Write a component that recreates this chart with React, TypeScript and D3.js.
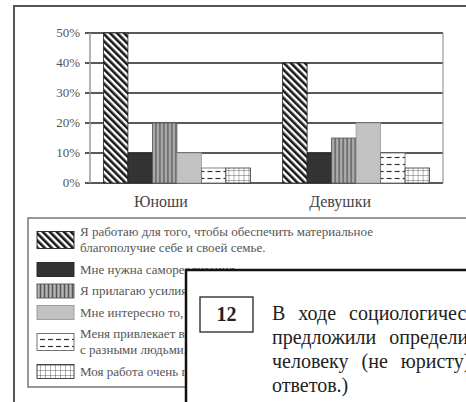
import * as d3 from 'd3';

const categories = ['Юноши', 'Девушки'];
const boys = [50, 10, 20, 10, 5, 5];
const girls = [40, 10, 15, 20, 10, 5];
const yTicks = [0, 10, 20, 30, 40, 50];
const legendLines = [
    ['Я работаю для того, чтобы обеспечить материальное', 'благополучие себе и своей семье.'],
    ['Мне нужна самореализация.'],
    ['Я прилагаю усилия, чтобы сделать карьеру.'],
    ['Мне интересно то, чем я занимаюсь.'],
    ['Меня привлекает возможность общаться', 'с разными людьми.'],
    ['Моя работа очень престижна.'],
];
const fills = ['url(#diag)', '#333', 'url(#vstripe)', '#c2c2c2', 'url(#dash)', 'url(#grid)'];
const strokes = ['#222', '#222', '#555', '#999', '#666', '#333'];
const taskLines = ['В ходе социологического опроса', 'предложили определить', 'человеку (не юристу)', 'ответов.)'];

const W = 466;
const H = 402;
const FONT = 'Tinos';

function T(props: any) {
    return <text {...props} style={{ fontFamily: `"${FONT}"` }} />;
}

export default function App() {
    const values = [boys, girls];
    const x0 = d3.scaleBand<string>().domain(categories).range([90, 443]).paddingInner(0.18).paddingOuter(0.075);
    const x1 = d3.scaleBand<number>().domain(d3.range(boys.length)).range([0, x0.bandwidth()]);
    const y = d3.scaleLinear().domain([0, 50]).range([183, 33]);

    // legend rows: item start offsets from line counts
    const lineH = 16;
    const gap = 21.5;
    let acc = 232;
    const legendY = legendLines.map(lines => {
        const cur = acc;
        acc += (lines.length - 1) * lineH + gap;
        return cur;
    });

    return (
        <svg width={W} height={H} style={{ position: 'absolute', left: 0, top: 0, background: '#fff' }}>
            <defs>
                <pattern id="diag" patternUnits="userSpaceOnUse" width="5" height="5" patternTransform="rotate(-45)">
                    <rect width="5" height="5" fill="#fff" />
                    <rect width="2.6" height="5" fill="#1a1a1a" />
                </pattern>
                <pattern id="vstripe" patternUnits="userSpaceOnUse" width="4" height="4">
                    <rect width="4" height="4" fill="#9a9a9a" />
                    <rect width="1" height="4" fill="#555" />
                    <rect x="2" width="1" height="4" fill="#b8b8b8" />
                </pattern>
                <pattern id="dash" patternUnits="userSpaceOnUse" width="8" height="7">
                    <rect width="8" height="7" fill="#fff" />
                    <line x1="0" x2="5" y1="3.5" y2="3.5" stroke="#333" strokeWidth="1.2" />
                </pattern>
                <pattern id="grid" patternUnits="userSpaceOnUse" width="5" height="5">
                    <rect width="5" height="5" fill="#fff" />
                    <path d="M0,0V5M0,0H5" stroke="#555" strokeWidth="0.9" fill="none" />
                </pattern>
            </defs>

            {/* outer frame */}
            <rect x={14} y={6} width={520} height={480} fill="#fff" stroke="#555" strokeWidth={2} />

            {/* gridlines + y ticks */}
            {yTicks.map(t => (
                <g key={t}>
                    <line x1={85} x2={443} y1={y(t)} y2={y(t)} stroke="#222" strokeWidth={1.3} />
                    <T x={80} y={y(t) + 4} textAnchor="end" fontSize={13} fill="#555">{t}%</T>
                </g>
            ))}
            <line x1={90} x2={90} y1={y(50)} y2={y(0)} stroke="#999" strokeWidth={1.5} />
            <line x1={443} x2={443} y1={y(50)} y2={y(0)} stroke="#999" strokeWidth={1.2} />

            {/* bars */}
            {categories.map((c, ci) => (
                <g key={c} transform={`translate(${x0(c)},0)`}>
                    {values[ci].map((v, i) => (
                        <rect key={i} x={x1(i)} y={y(v)} width={x1.bandwidth()} height={y(0) - y(v)}
                            fill={fills[i]} stroke={strokes[i]} strokeWidth={0.8} />
                    ))}
                    <T x={x0.bandwidth() / 2 - 16} y={207} textAnchor="middle" fontSize={16} fill="#444">{c}</T>
                </g>
            ))}

            {/* legend */}
            <rect x={28} y={218} width={460} height={169} fill="#fff" stroke="#777" strokeWidth={1.5} />
            {legendLines.map((lines, i) => {
                const sh = 14 + (lines.length - 1) * 3;
                const cy = legendY[i] + (lines.length - 1) * lineH / 2 - 2;
                return (
                    <g key={i}>
                        <rect x={37} y={cy - sh / 2 + 2} width={37} height={sh} fill={fills[i]} stroke={strokes[i]} strokeWidth={0.9} />
                        {lines.map((l, j) => (
                            <T key={j} x={80} y={legendY[i] + j * lineH + 4} fontSize={13} fill="#555">{l}</T>
                        ))}
                    </g>
                );
            })}

            {/* overlapping task card */}
            <rect x={186} y={270} width={300} height={150} fill="#fff" stroke="#111" strokeWidth={2.5} />
            <rect x={200} y={297} width={53} height={35} fill="none" stroke="#222" strokeWidth={1.3} />
            <T x={226.5} y={321} textAnchor="middle" fontSize={20} fontWeight="bold" fill="#222">12</T>
            {taskLines.map((l, i) => (
                <T key={i} x={272} y={320 + i * 24} fontSize={20} fill="#222"
                    wordSpacing={i < 3 ? 8 : 0}>{l}</T>
            ))}
        </svg>
    );
}
